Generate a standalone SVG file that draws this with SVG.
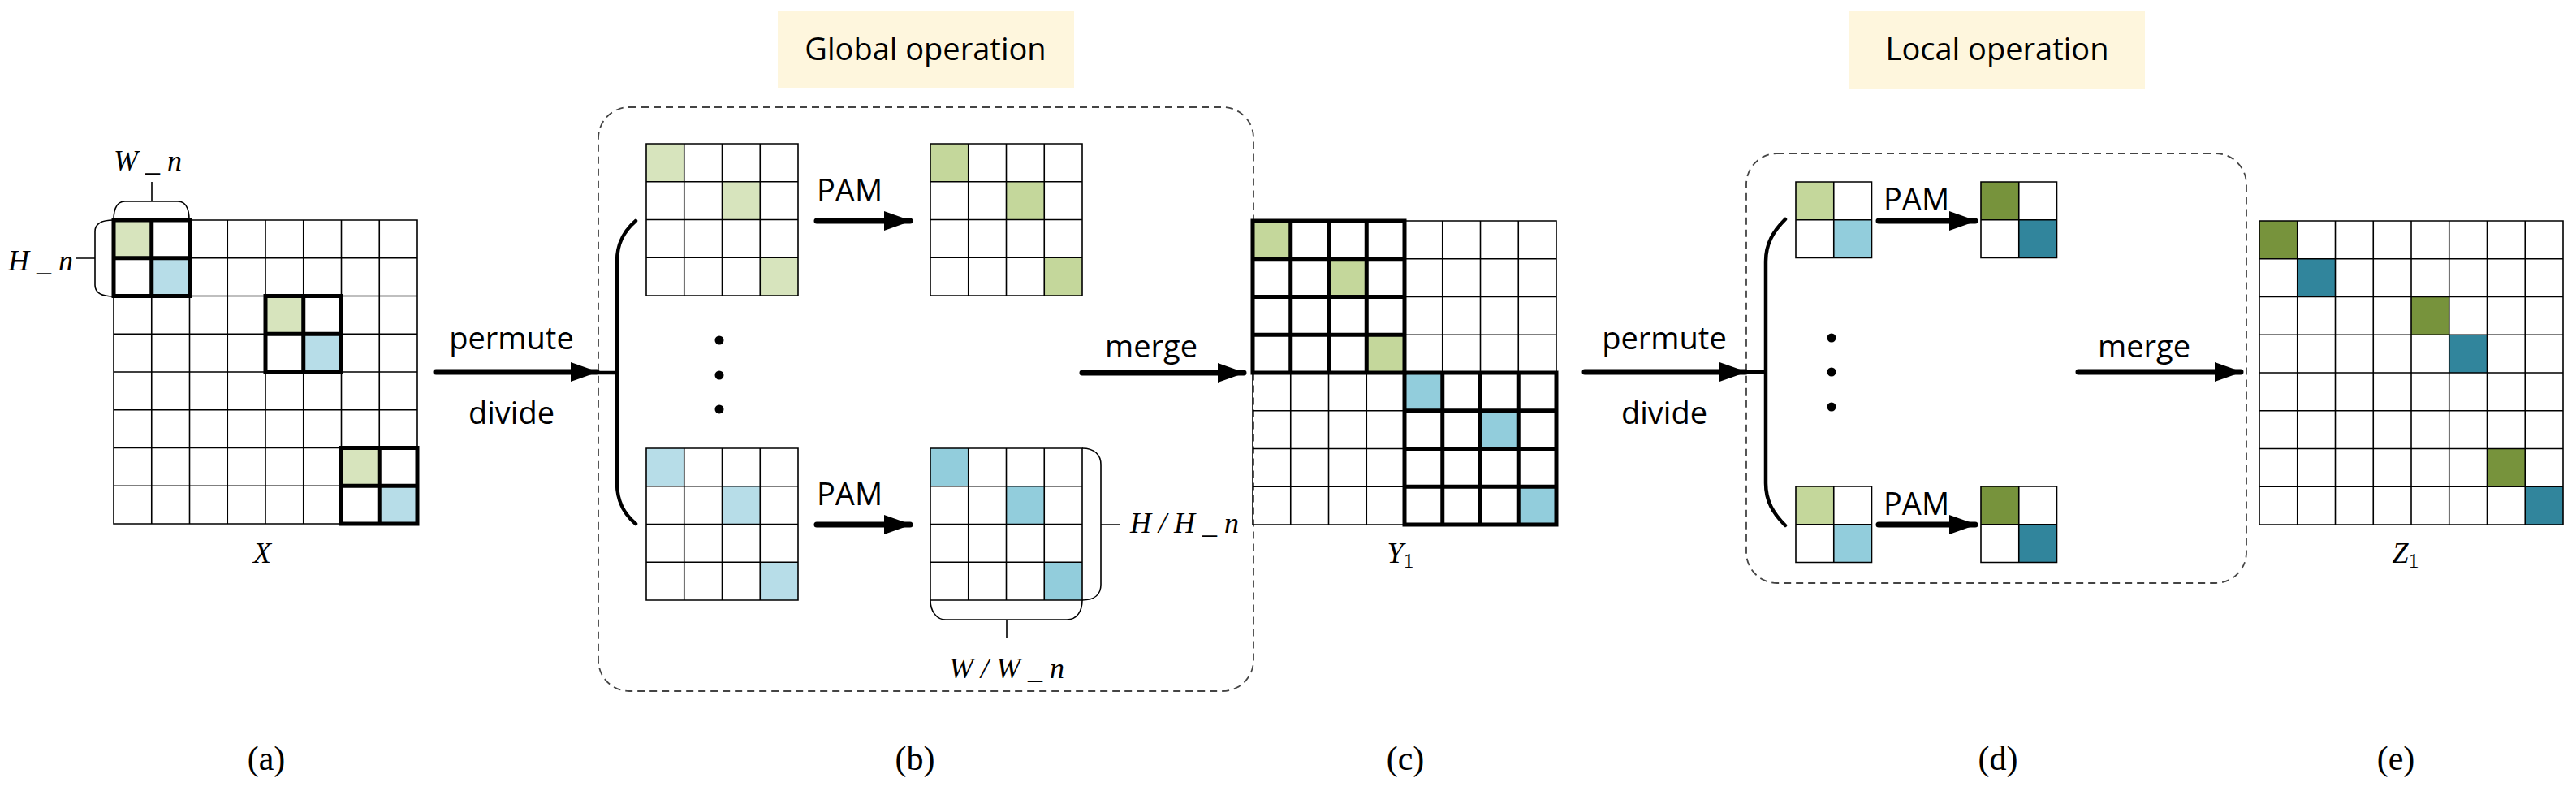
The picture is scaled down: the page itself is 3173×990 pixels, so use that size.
<svg xmlns="http://www.w3.org/2000/svg" width="3173" height="990" viewBox="0 0 3173 990">
<defs>
<style>
.g{fill:none;stroke:#000;stroke-width:1.6}
.t{fill:none;stroke:#000;stroke-width:5}
.br{fill:none;stroke:#000;stroke-width:1.6}
.bb{fill:none;stroke:#000;stroke-width:4.5;stroke-linecap:round}
.ar{stroke:#000;stroke-width:7;stroke-linecap:round;fill:none}
.dash{fill:none;stroke:#444;stroke-width:1.8;stroke-dasharray:9 6}
.s{font-family:"Open Sans","Noto Sans",sans-serif;font-size:38px;fill:#000}
.m{font-family:"Liberation Serif",serif;font-style:italic;font-size:36px;fill:#000}
.c{font-family:"Liberation Serif",serif;font-size:42px;fill:#000}
.lg{fill:#d7e4bd}.mg{fill:#c4d79b}.dg{fill:#77933c}
.lb{fill:#b7dde8}.mb{fill:#92cddc}.db{fill:#31859c}
.hdr{fill:#fef6dd}
</style>
<marker id="ah" markerUnits="userSpaceOnUse" markerWidth="34" markerHeight="24" refX="32" refY="12" orient="auto"><path d="M0,0 L34,12 L0,24 Z" fill="#000"/></marker>
<path id="g8" d="M0,0 H374 V374 H0 Z M46.75,0 V374 M93.5,0 V374 M140.25,0 V374 M187,0 V374 M233.75,0 V374 M280.5,0 V374 M327.25,0 V374 M0,46.75 H374 M0,93.5 H374 M0,140.25 H374 M0,187 H374 M0,233.75 H374 M0,280.5 H374 M0,327.25 H374"/>
<path id="g4" d="M0,0 H187 V187 H0 Z M46.75,0 V187 M93.5,0 V187 M140.25,0 V187 M0,46.75 H187 M0,93.5 H187 M0,140.25 H187"/>
<path id="g2" d="M0,0 H93.5 V93.5 H0 Z M46.75,0 V93.5 M0,46.75 H93.5"/>
</defs>

<g id="headers">
<rect class="hdr" x="958" y="14" width="365" height="94"/>
<text class="s" x="1140" y="74" text-anchor="middle">Global operation</text>
<rect class="hdr" x="2278" y="14" width="364" height="95"/>
<text class="s" x="2460" y="74" text-anchor="middle">Local operation</text>
</g>

<g id="panel-a">
<rect class="lg" x="140" y="271" width="46.75" height="46.75"/>
<rect class="lb" x="186.75" y="317.75" width="46.75" height="46.75"/>
<rect class="lg" x="327" y="364.5" width="46.75" height="46.75"/>
<rect class="lb" x="373.75" y="411.25" width="46.75" height="46.75"/>
<rect class="lg" x="420.5" y="551.5" width="46.75" height="46.75"/>
<rect class="lb" x="467.25" y="598.25" width="46.75" height="46.75"/>
<use href="#g8" x="140" y="271" class="g"/>
<use href="#g2" x="140" y="271" class="t"/>
<use href="#g2" x="327" y="364.5" class="t"/>
<use href="#g2" x="420.5" y="551.5" class="t"/>
<path class="br" d="M140,271 C140,256 144,248 154,248 H219 C229,248 233,256 233,271 M187,248 V224"/>
<path class="br" d="M140,271 C125,271 117,276 117,285 V351 C117,360 125,365 140,365 M117,318 H93"/>
<text class="m" x="140" y="210">W _ n</text>
<text class="m" x="10" y="333">H _ n</text>
<text class="m" x="323" y="693" text-anchor="middle">X</text>
<text class="c" x="328" y="948" text-anchor="middle">(a)</text>
</g>

<g id="panel-b">
<rect class="dash" x="737" y="132" width="807" height="719" rx="38"/>
<rect class="lg" x="796" y="177" width="46.75" height="46.75"/>
<rect class="lg" x="889.5" y="223.75" width="46.75" height="46.75"/>
<rect class="lg" x="936.25" y="317.25" width="46.75" height="46.75"/>
<use href="#g4" x="796" y="177" class="g"/>
<rect class="mg" x="1146" y="177" width="46.75" height="46.75"/>
<rect class="mg" x="1239.5" y="223.75" width="46.75" height="46.75"/>
<rect class="mg" x="1286.25" y="317.25" width="46.75" height="46.75"/>
<use href="#g4" x="1146" y="177" class="g"/>
<rect class="lb" x="796" y="552" width="46.75" height="46.75"/>
<rect class="lb" x="889.5" y="598.75" width="46.75" height="46.75"/>
<rect class="lb" x="936.25" y="692.25" width="46.75" height="46.75"/>
<use href="#g4" x="796" y="552" class="g"/>
<rect class="mb" x="1146" y="552" width="46.75" height="46.75"/>
<rect class="mb" x="1239.5" y="598.75" width="46.75" height="46.75"/>
<rect class="mb" x="1286.25" y="692.25" width="46.75" height="46.75"/>
<use href="#g4" x="1146" y="552" class="g"/>
<circle cx="886" cy="419" r="5.5"/><circle cx="886" cy="462" r="5.5"/><circle cx="886" cy="504" r="5.5"/>
<text class="s" x="1006" y="248">PAM</text>
<text class="s" x="1006" y="622">PAM</text>
<path class="br" d="M1333,552 C1348,552 1356,560 1356,572 V720 C1356,732 1348,739 1333,739 M1356,646 H1380"/>
<path class="br" d="M1146,739 C1146,752 1153,763 1165,763 H1314 C1327,763 1333,752 1333,739 M1240,763 V785"/>
<text class="m" x="1392" y="656">H / H _ n</text>
<text class="m" x="1240" y="835" text-anchor="middle">W / W _ n</text>
<path class="bb" d="M783,272 C768,285 760,300 760,322 V595 C760,617 768,632 783,645 M737,459 H760"/>
<text class="c" x="1127" y="948" text-anchor="middle">(b)</text>
</g>

<g id="panel-c">
<rect class="mg" x="1543" y="272" width="46.75" height="46.75"/>
<rect class="mg" x="1636.5" y="318.75" width="46.75" height="46.75"/>
<rect class="mg" x="1683.25" y="412.25" width="46.75" height="46.75"/>
<rect class="mb" x="1730" y="459" width="46.75" height="46.75"/>
<rect class="mb" x="1823.5" y="505.75" width="46.75" height="46.75"/>
<rect class="mb" x="1870.25" y="599.25" width="46.75" height="46.75"/>
<use href="#g8" x="1543" y="272" class="g"/>
<use href="#g4" x="1543" y="272" class="t"/>
<use href="#g4" x="1730" y="459" class="t"/>
<text class="m" x="1725" y="693" text-anchor="middle">Y<tspan font-style="normal" font-size="26" dy="6">1</tspan></text>
<text class="c" x="1731" y="948" text-anchor="middle">(c)</text>
</g>

<g id="panel-d">
<rect class="dash" x="2151" y="189" width="616" height="529" rx="38"/>
<rect class="mg" x="2212" y="224" width="46.75" height="46.75"/>
<rect class="mb" x="2258.75" y="270.75" width="46.75" height="46.75"/>
<use href="#g2" x="2212" y="224" class="g"/>
<rect class="dg" x="2440" y="224" width="46.75" height="46.75"/>
<rect class="db" x="2486.75" y="270.75" width="46.75" height="46.75"/>
<use href="#g2" x="2440" y="224" class="g"/>
<rect class="mg" x="2212" y="599" width="46.75" height="46.75"/>
<rect class="mb" x="2258.75" y="645.75" width="46.75" height="46.75"/>
<use href="#g2" x="2212" y="599" class="g"/>
<rect class="dg" x="2440" y="599" width="46.75" height="46.75"/>
<rect class="db" x="2486.75" y="645.75" width="46.75" height="46.75"/>
<use href="#g2" x="2440" y="599" class="g"/>
<circle cx="2256" cy="416" r="5.5"/><circle cx="2256" cy="458" r="5.5"/><circle cx="2256" cy="501" r="5.5"/>
<text class="s" x="2320" y="259">PAM</text>
<text class="s" x="2320" y="634">PAM</text>
<path class="bb" d="M2199,270 C2184,285 2175,300 2175,322 V595 C2175,617 2184,632 2199,647 M2151,458 H2175"/>
<text class="c" x="2461" y="948" text-anchor="middle">(d)</text>
</g>

<g id="panel-e">
<rect class="dg" x="2783" y="272" width="46.75" height="46.75"/>
<rect class="db" x="2829.75" y="318.75" width="46.75" height="46.75"/>
<rect class="dg" x="2970" y="365.5" width="46.75" height="46.75"/>
<rect class="db" x="3016.75" y="412.25" width="46.75" height="46.75"/>
<rect class="dg" x="3063.5" y="552.5" width="46.75" height="46.75"/>
<rect class="db" x="3110.25" y="599.25" width="46.75" height="46.75"/>
<use href="#g8" x="2783" y="272" class="g"/>
<text class="m" x="2963" y="693" text-anchor="middle">Z<tspan font-style="normal" font-size="26" dy="6">1</tspan></text>
<text class="c" x="2951" y="948" text-anchor="middle">(e)</text>
</g>

<g id="connectors">
<path class="ar" d="M537,458 H735" marker-end="url(#ah)"/>
<text class="s" x="630" y="430" text-anchor="middle">permute</text>
<text class="s" x="630" y="522" text-anchor="middle">divide</text>
<path class="ar" d="M1006,272 H1121" marker-end="url(#ah)"/>
<path class="ar" d="M1006,646 H1121" marker-end="url(#ah)"/>
<path class="ar" d="M1333,459 H1532" marker-end="url(#ah)"/>
<text class="s" x="1418" y="440" text-anchor="middle">merge</text>
<path class="ar" d="M1952,458 H2150" marker-end="url(#ah)"/>
<text class="s" x="2050" y="430" text-anchor="middle">permute</text>
<text class="s" x="2050" y="522" text-anchor="middle">divide</text>
<path class="ar" d="M2314,272 H2433" marker-end="url(#ah)"/>
<path class="ar" d="M2314,646 H2433" marker-end="url(#ah)"/>
<path class="ar" d="M2560,458 H2760" marker-end="url(#ah)"/>
<text class="s" x="2641" y="440" text-anchor="middle">merge</text>
</g>
</svg>
